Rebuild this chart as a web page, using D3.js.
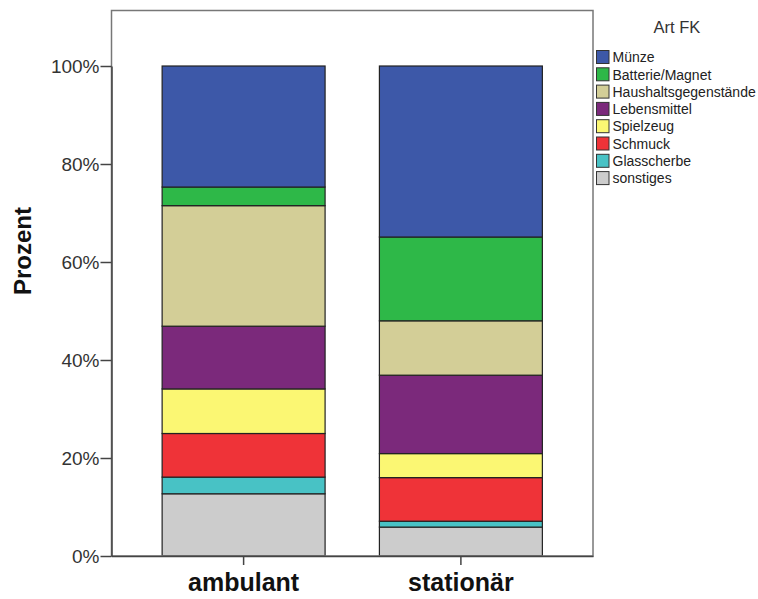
<!DOCTYPE html>
<html><head><meta charset="utf-8">
<script src="https://cdn.jsdelivr.net/npm/d3@7"></script>
<style>body{margin:0;background:#fff}svg{display:block;font-family:"Liberation Sans",Arial,sans-serif}</style>
</head><body>
<svg id="c" width="758" height="599"></svg>
<script>
const categories = ["ambulant", "stationär"];
const seriesNames = ["sonstiges","Glasscherbe","Schmuck","Spielzeug","Lebensmittel","Haushaltsgegenstände","Batterie/Magnet","Münze"];
const ambulant = [12.7, 3.4, 8.9, 9.1, 12.8, 24.6, 3.8, 24.7];
const stationaer = [5.9, 1.2, 8.9, 4.9, 16.0, 11.1, 17.1, 34.9];
const colors = ["#cccccc","#48c2c5","#ef3338","#fbf773","#7b297b","#d3ce97","#2eb848","#3d58a8"];
const yTicks = [0, 20, 40, 60, 80, 100];
const legendOrder = ["Münze","Batterie/Magnet","Haushaltsgegenstände","Lebensmittel","Spielzeug","Schmuck","Glasscherbe","sonstiges"];

const svg = d3.select("#c");
const L = 111.5, R = 593, T = 10.5, B = 556;
const x = d3.scaleBand().domain(categories).range([L, R]).paddingInner(0.25).paddingOuter(0.233);
const y = d3.scaleLinear().domain([0, 100]).range([B, 66]);
const color = d3.scaleOrdinal().domain(seriesNames).range(colors);

const rows = [ambulant, stationaer].map((vals, i) => {
  const o = {cat: categories[i]};
  seriesNames.forEach((s, j) => o[s] = vals[j]);
  return o;
});
const stacked = d3.stack().keys(seriesNames)(rows);

svg.append("g").selectAll("g").data(stacked).join("g")
  .attr("fill", d => color(d.key))
  .selectAll("rect").data(d => d).join("rect")
  .attr("x", d => x(d.data.cat))
  .attr("width", x.bandwidth())
  .attr("y", d => y(d[1]))
  .attr("height", d => y(d[0]) - y(d[1]))
  .attr("stroke", "#222").attr("stroke-width", 1.2);

// frame
svg.append("rect").attr("x", L).attr("y", T).attr("width", R - L).attr("height", B - T)
  .attr("fill", "none").attr("stroke", "#777").attr("stroke-width", 1.5);

// y axis
const yAxis = svg.append("g").attr("transform", `translate(${L},0)`)
  .call(d3.axisLeft(y).tickValues(yTicks).tickFormat(d => d + "%").tickSize(11).tickSizeOuter(0).tickPadding(1));
yAxis.select(".domain").attr("stroke", "#444").attr("stroke-width", 1.5);
yAxis.selectAll(".tick line").attr("stroke", "#444").attr("stroke-width", 1.5);
yAxis.selectAll("text").attr("font-size", 19).attr("fill", "#333").attr("font-family", "Liberation Sans, Arial, sans-serif");

// x axis
const xAxis = svg.append("g").attr("transform", `translate(0,${B})`)
  .call(d3.axisBottom(x).tickSize(9).tickSizeOuter(0).tickPadding(8));
xAxis.select(".domain").attr("stroke", "#444").attr("stroke-width", 1.5);
xAxis.selectAll(".tick line").attr("stroke", "#444").attr("stroke-width", 1.5);
xAxis.selectAll("text").attr("font-size", 25).attr("font-weight", "bold").attr("fill", "#111")
  .attr("font-family", "Liberation Sans, Arial, sans-serif");

// y label
svg.append("text").attr("transform", "translate(31,251) rotate(-90)")
  .attr("text-anchor", "middle").attr("font-size", 24).attr("font-weight", "bold").attr("fill", "#111")
  .text("Prozent");

// legend
svg.append("text").attr("x", 677).attr("y", 33).attr("text-anchor", "middle")
  .attr("font-size", 16.5).attr("fill", "#333").text("Art FK");
const lg = svg.append("g").selectAll("g").data(legendOrder).join("g")
  .attr("transform", (d, i) => `translate(596.5,${50.5 + i * 17.3})`);
lg.append("rect").attr("width", 12.5).attr("height", 13).attr("fill", d => color(d))
  .attr("stroke", "#333").attr("stroke-width", 1);
lg.append("text").attr("x", 16).attr("y", 6.8).attr("dy", "0.35em")
  .attr("font-size", 14).attr("fill", "#222").text(d => d);
</script>
</body></html>
